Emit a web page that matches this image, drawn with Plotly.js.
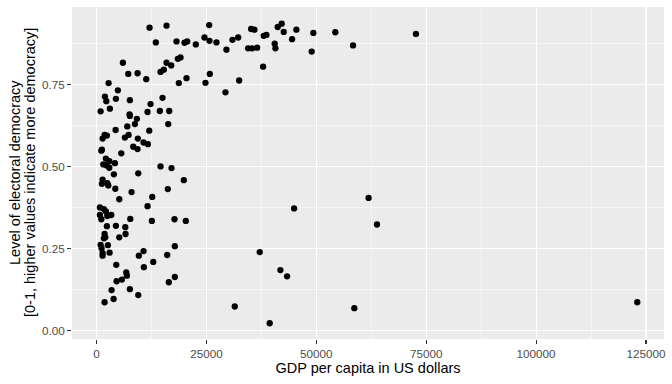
<!DOCTYPE html>
<html>
<head>
<meta charset="utf-8">
<script src="https://cdn.plot.ly/plotly-3.0.1.min.js"></script>
<style>html,body{margin:0;padding:0;background:#fff;}#chart{width:672px;height:384px;}</style>
</head>
<body>
<div id="chart"></div>
<script>
// GDP per capita (US dollars)
const gdp = [
  12045, 15909, 25613, 13477, 18182, 20000, 20614, 22568, 24545, 25682,
  5977, 15909, 16977, 18477, 19091, 7205, 9318, 11295, 14545, 15295,
  2727, 4841, 18705, 20455, 24773, 25750, 1886, 2205, 4386, 7568,
  15000, 12273, 909, 3023, 7500, 7568, 9159, 11591, 14386, 16523,
  8705, 6977, 16295, 4318, 1818, 2341, 1364, 6432, 7273, 9386,
  11977, 10682, 11659, 8341, 9318, 1205, 1068, 5614, 2114, 2886,
  1523, 2273, 2886, 4159, 14545, 17045, 3932, 9477, 19841, 1364,
  1205, 2432, 2659, 4250, 7955, 16205, 5159, 12659, 750, 1659,
  2114, 11591, 750, 2432, 3341, 1068, 7659, 12568, 17727, 20295,
  2341, 4386, 6523, 1818, 1659, 1977, 5159, 6591, 909, 1136,
  1364, 1364, 2568, 2955, 9614, 10682, 16068, 17795, 4477, 10750,
  12886, 6750, 6886, 4545, 5750, 16432, 17795, 3409, 7568, 9477,
  3864, 1818, 27273, 29545, 30909, 32205, 35159, 35909, 34477, 35386,
  36523, 37886, 38023, 38636, 40523, 40682, 41205, 42114, 42568, 44477,
  45455, 49318, 48932, 54318, 58341, 32432, 29318, 44932, 61886, 63795,
  37114, 41818, 43341, 31432, 58636, 39386, 72659, 123023
];
// Electoral democracy index (0-1)
const democracy = [
  0.923, 0.929, 0.931, 0.878, 0.881, 0.877, 0.881, 0.872, 0.893, 0.883,
  0.816, 0.816, 0.808, 0.828, 0.832, 0.782, 0.784, 0.766, 0.788, 0.795,
  0.754, 0.732, 0.754, 0.769, 0.755, 0.782, 0.713, 0.699, 0.706, 0.702,
  0.709, 0.690, 0.668, 0.676, 0.659, 0.654, 0.645, 0.666, 0.669, 0.669,
  0.629, 0.622, 0.629, 0.611, 0.596, 0.594, 0.585, 0.588, 0.596, 0.585,
  0.609, 0.573, 0.568, 0.560, 0.553, 0.551, 0.548, 0.540, 0.524, 0.516,
  0.506, 0.503, 0.496, 0.510, 0.500, 0.495, 0.476, 0.479, 0.458, 0.460,
  0.447, 0.449, 0.442, 0.432, 0.422, 0.431, 0.400, 0.407, 0.375, 0.370,
  0.363, 0.379, 0.352, 0.349, 0.352, 0.339, 0.340, 0.334, 0.339, 0.334,
  0.318, 0.319, 0.315, 0.294, 0.281, 0.284, 0.284, 0.294, 0.261, 0.251,
  0.236, 0.228, 0.260, 0.237, 0.228, 0.242, 0.230, 0.257, 0.200, 0.193,
  0.209, 0.177, 0.167, 0.150, 0.155, 0.147, 0.163, 0.123, 0.126, 0.108,
  0.096, 0.086, 0.878, 0.856, 0.886, 0.893, 0.919, 0.917, 0.860, 0.860,
  0.862, 0.804, 0.898, 0.901, 0.874, 0.860, 0.925, 0.935, 0.910, 0.888,
  0.917, 0.907, 0.850, 0.909, 0.869, 0.762, 0.726, 0.372, 0.404, 0.323,
  0.239, 0.184, 0.165, 0.073, 0.068, 0.022, 0.904, 0.086
];
const xTickVals = [0, 25000, 50000, 75000, 100000, 125000];
const xTickText = ["0", "25000", "50000", "75000", "100000", "125000"];
const yTickVals = [0, 0.25, 0.5, 0.75];
const yTickText = ["0.00", "0.25", "0.50", "0.75"];
const xTitle = "GDP per capita in US dollars";
const yTitleLines = ["Level of electoral democracy", "[0-1, higher values indicate more democracy]"];

const font = "Liberation Sans, Arial, sans-serif";
const trace = {
  x: gdp, y: democracy, type: "scatter", mode: "markers",
  marker: {color: "#000000", size: 6.3, line: {width: 0}},
  hoverinfo: "skip"
};
const axisCommon = {
  showline: false, zeroline: false,
  gridcolor: "#FFFFFF", gridwidth: 1.1,
  ticks: "outside", ticklen: 4, tickwidth: 1.1, tickcolor: "#333333",
  tickfont: {family: font, size: 11.7, color: "#4D4D4D"}
};
const layout = {
  width: 672, height: 384,
  margin: {l: 72, r: 8, t: 7, b: 45},
  paper_bgcolor: "#FFFFFF", plot_bgcolor: "#EBEBEB",
  showlegend: false,
  xaxis: Object.assign({}, axisCommon, {
    range: [-5600, 129100],
    tickmode: "array", tickvals: xTickVals, ticktext: xTickText,
    minor: {dtick: 12500, tick0: 12500, showgrid: true, gridcolor: "#FFFFFF", gridwidth: 0.5, ticks: ""},
    title: {text: xTitle, font: {family: font, size: 14.5, color: "#000"}, standoff: 2}
  }),
  yaxis: Object.assign({}, axisCommon, {
    range: [-0.026, 0.986],
    tickmode: "array", tickvals: yTickVals, ticktext: yTickText,
    minor: {dtick: 0.125, tick0: 0.125, showgrid: true, gridcolor: "#FFFFFF", gridwidth: 0.5, ticks: ""}
  }),
  annotations: yTitleLines.map((t, i) => ({
    text: t, xref: "paper", yref: "paper", x: 0, y: 0.5,
    xanchor: "center", yanchor: "middle", xshift: i === 0 ? -57 : -42,
    textangle: -90, showarrow: false,
    font: {family: font, size: 14.5, color: "#000"}
  }))
};
Plotly.newPlot("chart", [trace], layout, {staticPlot: true, displayModeBar: false});
</script>
</body>
</html>
